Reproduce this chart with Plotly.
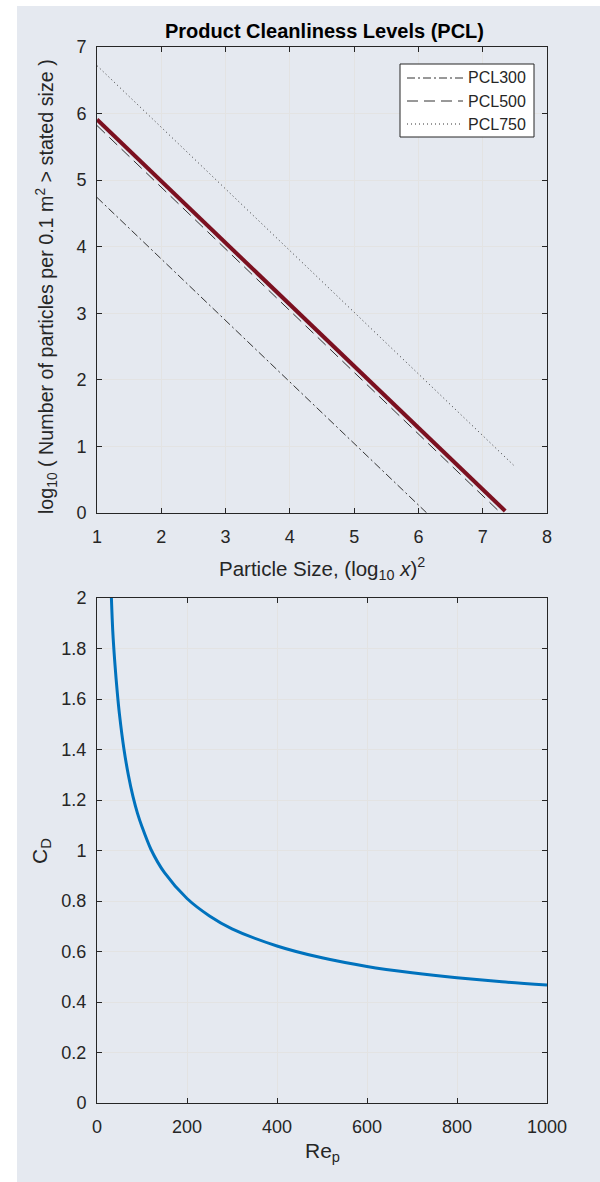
import plotly.graph_objects as go

# ---- Data ----
pcl_names = ["PCL300", "PCL500", "PCL750"]
pcl300_x = [1.0, 6.13]
pcl300_y = [4.74, 0.0]
pcl500_x = [1.0, 7.28]
pcl500_y = [5.82, 0.0]
pcl750_x = [1.0, 7.5]
pcl750_y = [6.72, 0.70]
spec_x = [1.0, 7.35]
spec_y = [5.91, 0.03]

re_p = [32, 35, 40, 45, 50, 60, 70, 80, 90, 100, 120, 150, 200, 250, 300, 400, 500, 600, 700, 800, 900, 1000]
cd = [2.0, 1.87, 1.735, 1.627, 1.538, 1.40, 1.296, 1.213, 1.147, 1.094, 1.004, 0.912, 0.81, 0.741,
      0.69, 0.622, 0.575, 0.541, 0.516, 0.496, 0.48, 0.467]

x1_ticks = [1, 2, 3, 4, 5, 6, 7, 8]
y1_ticks = [0, 1, 2, 3, 4, 5, 6, 7]
x2_ticks = [0, 200, 400, 600, 800, 1000]
y2_ticks = [0, 0.2, 0.4, 0.6, 0.8, 1, 1.2, 1.4, 1.6, 1.8, 2]

W, H = 600, 1182
FONT = "Liberation Sans"
AX = "#262626"
GRID = "#e3e3e3"
LEG = "#333333"

pcl_styles = [
    dict(color=LEG, width=1, dash="8px,3px,2px,3px"),
    dict(color=LEG, width=1, dash="11px,6px"),
    dict(color=LEG, width=1, dash="1px,3px"),
]

fig = go.Figure()

for name, xs, ys, st in zip(pcl_names, [pcl300_x, pcl500_x, pcl750_x],
                            [pcl300_y, pcl500_y, pcl750_y], pcl_styles):
    fig.add_trace(go.Scatter(x=xs, y=ys, mode="lines", name=name, line=st,
                             showlegend=False, xaxis="x", yaxis="y"))
fig.add_trace(go.Scatter(x=spec_x, y=spec_y, mode="lines", showlegend=False,
                         line=dict(color="#7b1020", width=4),
                         xaxis="x", yaxis="y"))
fig.add_trace(go.Scatter(x=re_p, y=cd, mode="lines", showlegend=False,
                         line=dict(color="#0072BD", width=3, shape="spline", smoothing=0.8),
                         xaxis="x2", yaxis="y2"))

def px_x(p):
    return p / W

def px_y(p):
    return 1 - p / H

axcommon = dict(showline=True, linecolor=AX, linewidth=1, mirror="ticks",
                ticks="inside", ticklen=5, tickcolor=AX, showgrid=True,
                gridcolor=GRID, gridwidth=1, zeroline=False, automargin=False,
                tickfont=dict(family=FONT, size=18, color=AX))

fig.update_layout(
    width=W, height=H,
    autosize=False,
    margin=dict(l=0, r=0, t=0, b=0, pad=0),
    paper_bgcolor="white",
    plot_bgcolor="white",
    font=dict(family=FONT, size=18, color=AX),
    showlegend=False,
    xaxis=dict(domain=[px_x(97), px_x(547)], range=[1, 8], tickvals=x1_ticks,
               anchor="y", ticklabelstandoff=7, **axcommon),
    yaxis=dict(domain=[px_y(513), px_y(47)], range=[0, 7], tickvals=y1_ticks,
               anchor="x", ticklabelstandoff=6, **axcommon),
    xaxis2=dict(domain=[px_x(97), px_x(547)], range=[0, 1000], tickvals=x2_ticks,
                anchor="y2", ticklabelstandoff=7, **axcommon),
    yaxis2=dict(domain=[px_y(1103), px_y(598)], range=[0, 2], tickvals=y2_ticks,
                anchor="x2", ticklabelstandoff=6, **axcommon),
)

# figure background (MATLAB-like)
fig.add_shape(type="rect", xref="paper", yref="paper",
              x0=px_x(17), x1=1, y0=0, y1=px_y(6),
              fillcolor="#e5e9f0", line=dict(width=0), layer="below")

def ann(text, x, y, size, angle=0, color=AX, xanchor="center"):
    fig.add_annotation(text=text, xref="paper", yref="paper", x=px_x(x), y=px_y(y),
                       xanchor=xanchor, yanchor="middle", showarrow=False, textangle=angle,
                       font=dict(family=FONT, size=size, color=color))

# titles
ann("<b>Product Cleanliness Levels (PCL)</b>", 324, 31, 20, color="black")
ann("Particle Size, (log<sub>10</sub> <i>x</i>)<sup>2</sup>", 322, 568, 20.5)
ann("log<sub>10</sub> ( Number of particles per 0.1 m<sup>2</sup> > stated size )", 47, 287, 19.7, angle=-90)
ann("Re<sub>p</sub>", 322, 1152, 21)
ann("C<sub>D</sub>", 41, 851, 21, angle=-90)

# legend box (drawn inside the top axes)
fig.add_shape(type="rect", xref="paper", yref="paper",
              x0=px_x(400), x1=px_x(534), y0=px_y(137), y1=px_y(64),
              fillcolor="white", line=dict(color=AX, width=1))
for i, (name, st) in enumerate(zip(pcl_names, pcl_styles)):
    yy = 78 + i * 23
    fig.add_shape(type="line", xref="paper", yref="paper",
                  x0=px_x(407), x1=px_x(463), y0=px_y(yy), y1=px_y(yy),
                  line=st)
    ann(name, 466, yy, 16, xanchor="left")

fig.write_html("out.html", config={"responsive": False, "displayModeBar": False},
               post_script="document.body.style.margin='0';document.body.style.padding='0';document.documentElement.style.overflow='hidden';")
